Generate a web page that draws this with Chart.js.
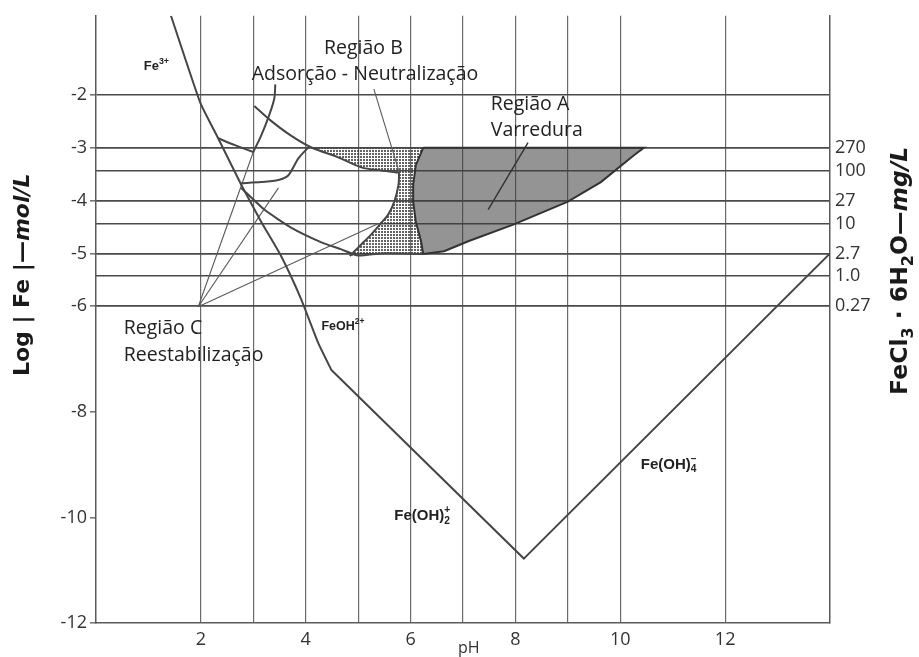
<!DOCTYPE html>
<html>
<head>
<meta charset="utf-8">
<script src="https://cdn.jsdelivr.net/npm/chart.js@4.4.1/dist/chart.umd.min.js"></script>
<style>
  html, body { margin: 0; padding: 0; background: #fff; }
  #wrap { width: 919px; height: 657px; position: relative; }
</style>
</head>
<body>
<div id="wrap"><canvas id="c" width="919" height="657"></canvas></div>
<script>
// ---- axes ----
const phRange = [0, 14];
const phGridTicks = [0, 2, 3, 4, 5, 6, 7, 8, 9, 10, 12, 14];
const phLabelTicks = [2, 4, 6, 8, 10, 12];
const logRange = [-12, -0.5];
const logTicks = [-12, -10, -8, -6, -5, -4, -3, -2];
const logGridFloor = -6;

// FeCl3·6H2O dose scale (mg/L); placed at log10 of the molar concentration
const mgLabels = ['270', '100', '27', '10', '2.7', '1.0', '0.27'];
const mgValues = [270, 100, 27, 10, 2.7, 1.0, 0.27];
const molarMass = 270.3; // g/mol of FeCl3·6H2O

// ---- solubility boundaries (pH, log [Fe] mol/L) ----
const fe3Ph  = [1.43, 1.99, 2.33, 2.77, 3.15, 3.53, 3.91, 4.24, 4.49];
const fe3Log = [-0.5, -2.15, -2.82, -3.70, -4.40, -5.05, -5.86, -6.70, -7.21];
const hydroxPh  = [4.49, 8.16, 14.0];
const hydroxLog = [-7.21, -10.78, -5.0];

// ---- coagulation domain curves ----
const upperPh  = [3.02, 3.34, 3.72, 4.10, 4.62, 5.06, 5.44, 5.78];
const upperLog = [-2.21, -2.49, -2.77, -2.99, -3.18, -3.37, -3.43, -3.47];
const innerPh  = [5.78, 5.77, 5.69, 5.57, 5.44, 5.25, 5.06, 4.93, 4.84];
const innerLog = [-3.47, -3.70, -4.02, -4.27, -4.42, -4.64, -4.83, -4.96, -5.05];
const lowerPh  = [2.77, 3.21, 3.72, 4.30, 4.67, 5.00, 5.44, 6.24];
const lowerLog = [-3.76, -4.17, -4.51, -4.79, -4.92, -5.04, -5.00, -5.01];
const loopLeftPh   = [2.33, 2.65, 3.00];
const loopLeftLog  = [-2.82, -2.95, -3.08];
const loopRightPh  = [3.00, 3.15, 3.30, 3.40, 3.42];
const loopRightLog = [-3.08, -2.77, -2.39, -2.07, -1.80];
const shelfPh  = [2.77, 3.15, 3.48, 3.67, 3.86, 4.05];
const shelfLog = [-3.67, -3.65, -3.61, -3.52, -3.20, -2.99];

// ---- shaded regions ----
const sweepPh  = [6.24, 6.10, 6.05, 6.05, 6.10, 6.20, 6.24, 6.64, 7.10, 7.97, 9.00, 9.63, 10.26, 10.45, 6.24];
const sweepLog = [-3.0, -3.33, -3.70, -4.02, -4.40, -4.77, -5.01, -4.96, -4.77, -4.45, -4.02, -3.65, -3.14, -3.0, -3.0];
const adsorbPh  = [4.12, 6.24, 6.10, 6.05, 6.05, 6.10, 6.20, 6.24, 5.44, 5.00, 4.84, 4.93, 5.06, 5.25, 5.44, 5.57, 5.69, 5.77, 5.78, 5.44, 5.06, 4.62, 4.12];
const adsorbLog = [-3.0, -3.0, -3.33, -3.70, -4.02, -4.40, -4.77, -5.01, -5.00, -5.04, -5.05, -4.96, -4.83, -4.64, -4.42, -4.27, -4.02, -3.70, -3.47, -3.43, -3.37, -3.18, -3.0];

// ---- leader lines ----
const regionCPoint = [1.95, -6.01];
const regionCTargetsPh  = [3.00, 3.48, 5.40];
const regionCTargetsLog = [-3.08, -3.76, -4.43];
const regionBLeaderPh  = [5.30, 5.78];
const regionBLeaderLog = [-1.89, -3.45];
const regionALeaderPh  = [8.24, 7.48];
const regionALeaderLog = [-2.90, -4.17];

const pts = (xs, ys) => xs.map((x, i) => ({ x, y: ys[i] }));
const mgToLog = mg => Math.log10(mg / 1000 / molarMass);

function stipplePattern() {
  const c = document.createElement('canvas');
  c.width = 3; c.height = 3;
  const g = c.getContext('2d');
  g.fillStyle = 'rgba(60,60,60,0.8)';
  g.fillRect(0, 0, 2, 2);
  return g.createPattern(c, 'repeat');
}

const LINE = '#464646';
const lineSet = (data, extra) => Object.assign({
  data, borderColor: LINE, borderWidth: 2, pointRadius: 0, fill: false,
  tension: 0.3, order: 1
}, extra || {});

const datasets = [
  lineSet(pts(fe3Ph, fe3Log), { tension: 0.15 }),
  lineSet(pts(hydroxPh, hydroxLog), { tension: 0 }),
  lineSet(pts(upperPh, upperLog)),
  lineSet(pts(innerPh, innerLog)),
  lineSet(pts(lowerPh, lowerLog), { tension: 0.2 }),
  lineSet(pts(loopLeftPh, loopLeftLog), { tension: 0.2 }),
  lineSet(pts(loopRightPh, loopRightLog)),
  lineSet(pts(shelfPh, shelfLog), { tension: 0.25 }),
  ...regionCTargetsPh.map((p, i) => lineSet(
    [{ x: regionCPoint[0], y: regionCPoint[1] }, { x: p, y: regionCTargetsLog[i] }],
    { tension: 0, borderWidth: 1.1, borderColor: '#5a5a5a' })),
  lineSet(pts(regionBLeaderPh, regionBLeaderLog), { tension: 0, borderWidth: 1.1, borderColor: '#5a5a5a' }),
  lineSet(pts(regionALeaderPh, regionALeaderLog), { tension: 0, borderWidth: 1.4, borderColor: '#333' }),
  {
    data: pts(sweepPh, sweepLog), fill: 'shape', backgroundColor: 'rgba(60,60,60,0.55)',
    borderColor: '#333', borderWidth: 2, pointRadius: 0, tension: 0, order: 5
  },
  {
    data: pts(adsorbPh, adsorbLog), fill: 'shape', backgroundColor: stipplePattern(),
    borderWidth: 0, pointRadius: 0, tension: 0, order: 6
  }
];

// ---- text placed in data coordinates ----
const FONT = "'Open Sans', sans-serif";
const CHEM = "'Liberation Sans', Arial, sans-serif";
const notes = [
  { at: [0.91, -1.46], parts: [{ t: 'Fe' }, { t: '3+', sup: true }], size: 13, family: CHEM, weight: 'bold' },
  { at: [4.30, -6.38], parts: [{ t: 'FeOH' }, { t: '2+', sup: true }], size: 12.5, family: CHEM, weight: 'bold' },
  { at: [5.69, -9.98], parts: [{ t: 'Fe(OH)' }, { t: '2', sub: true }, { t: '+', sup: true, back: true }], size: 15, family: CHEM, weight: 'bold' },
  { at: [10.39, -9.0], parts: [{ t: 'Fe(OH)' }, { t: '4', sub: true }, { t: '−', sup: true, back: true }], size: 15, family: CHEM, weight: 'bold' },
  { at: [5.10, -1.12], parts: [{ t: 'Região B' }], size: 19.5, family: FONT, align: 'center' },
  { at: [5.13, -1.61], parts: [{ t: 'Adsorção - Neutralização' }], size: 19.5, family: FONT, align: 'center' },
  { at: [7.53, -2.17], parts: [{ t: 'Região A' }], size: 19.5, family: FONT },
  { at: [7.53, -2.67], parts: [{ t: 'Varredura' }], size: 19.5, family: FONT },
  { at: [0.53, -6.42], parts: [{ t: 'Região C' }], size: 19.5, family: FONT },
  { at: [0.53, -6.93], parts: [{ t: 'Reestabilização' }], size: 19.5, family: FONT }
];

function drawRich(ctx, parts, x, y, o) {
  ctx.save();
  ctx.translate(x, y);
  if (o.rotate) ctx.rotate(o.rotate);
  const fontFor = p => {
    const s = (p.sub || p.sup) ? o.size * 0.68 : o.size;
    return (p.italic ? 'italic ' : '') + (o.weight || 'normal') + ' ' + s + 'px ' + o.family;
  };
  let total = 0, prevW = 0;
  parts.forEach(p => { ctx.font = fontFor(p); p.w = ctx.measureText(p.t).width; });
  parts.forEach(p => { total += p.back ? Math.max(0, p.w - prevW) : p.w; prevW = p.w; });
  let cx = o.align === 'center' ? -total / 2 : 0;
  ctx.textBaseline = 'middle';
  ctx.textAlign = 'left';
  ctx.fillStyle = o.color || '#222';
  let lastW = 0;
  parts.forEach(p => {
    ctx.font = fontFor(p);
    const dy = p.sub ? o.size * 0.32 : p.sup ? -o.size * 0.38 : 0;
    const px = p.back ? cx - lastW : cx;
    ctx.fillText(p.t, px, dy);
    if (p.back) { cx = px + Math.max(p.w, lastW); } else { cx += p.w; }
    lastW = p.w;
  });
  ctx.restore();
}

const annotate = {
  id: 'annotate',
  afterDatasetsDraw(chart) {
    const { ctx, scales: { x, y }, chartArea: a } = chart;
    notes.forEach(n => drawRich(ctx, n.parts, x.getPixelForValue(n.at[0]), y.getPixelForValue(n.at[1]), n));
    // axis titles
    drawRich(ctx, [{ t: 'Log | Fe |—' }, { t: 'mol/L', italic: true }],
      a.left - 73, a.top + 259, { size: 22, family: "'DejaVu Sans', sans-serif", weight: 'bold', align: 'center', rotate: -Math.PI / 2, color: '#1a1a1a' });
    drawRich(ctx, [{ t: 'FeCl' }, { t: '3', sub: true }, { t: ' · 6H' }, { t: '2', sub: true }, { t: 'O—' }, { t: 'mg/L', italic: true }],
      a.right + 71, a.top + 255, { size: 23.5, family: "'DejaVu Sans', sans-serif", weight: 'bold', align: 'center', rotate: -Math.PI / 2, color: '#1a1a1a' });
    drawRich(ctx, [{ t: 'pH' }], a.left + 362, a.bottom + 25, { size: 16, family: FONT, color: '#333' });
  }
};

Chart.defaults.font.family = FONT;
Chart.defaults.color = '#333';

new Chart(document.getElementById('c'), {
  type: 'line',
  data: { datasets },
  options: {
    responsive: false,
    animation: false,
    layout: { padding: { top: 10, left: 0, right: 0, bottom: 0 } },
    plugins: { legend: { display: false }, tooltip: { enabled: false } },
    scales: {
      x: {
        type: 'linear', min: phRange[0], max: phRange[1],
        afterBuildTicks: s => { s.ticks = phGridTicks.map(v => ({ value: v })); },
        afterFit: s => { s.height = 34; },
        ticks: {
          autoSkip: false, maxRotation: 0, padding: 6, font: { size: 18 }, color: '#333',
          callback: v => phLabelTicks.includes(v) ? String(v) : ''
        },
        grid: {
          drawTicks: false, lineWidth: 1.2,
          color: c => (c.tick && (c.tick.value === phRange[0] || c.tick.value === phRange[1])) ? 'rgba(0,0,0,0)' : '#6a6a6a'
        },
        border: { display: true, color: '#5a5a5a', width: 1.5 }
      },
      y: {
        type: 'linear', position: 'left', min: logRange[0], max: logRange[1],
        afterBuildTicks: s => { s.ticks = logTicks.map(v => ({ value: v })); },
        afterFit: s => { s.width = 96; },
        ticks: { autoSkip: false, padding: 3, font: { size: 18 }, color: '#333', callback: v => String(v) },
        grid: {
          drawTicks: true, tickLength: 6, lineWidth: 1.6, tickColor: '#777',
          color: c => (c.tick && c.tick.value >= logGridFloor) ? '#4a4a4a' : 'rgba(0,0,0,0)'
        },
        border: { display: true, color: '#5a5a5a', width: 1.5 }
      },
      y2: {
        type: 'linear', position: 'right', min: logRange[0], max: logRange[1],
        afterBuildTicks: s => { s.ticks = mgValues.map(v => ({ value: mgToLog(v) })); },
        afterFit: s => { s.width = 89; },
        ticks: { autoSkip: false, padding: 5, font: { size: 18 }, color: '#333', callback: (v, i) => mgLabels[i] },
        grid: { drawTicks: false, lineWidth: 1.6, color: '#4a4a4a' },
        border: { display: true, color: '#5a5a5a', width: 1.5 }
      }
    }
  },
  plugins: [annotate]
});
</script>
</body>
</html>
